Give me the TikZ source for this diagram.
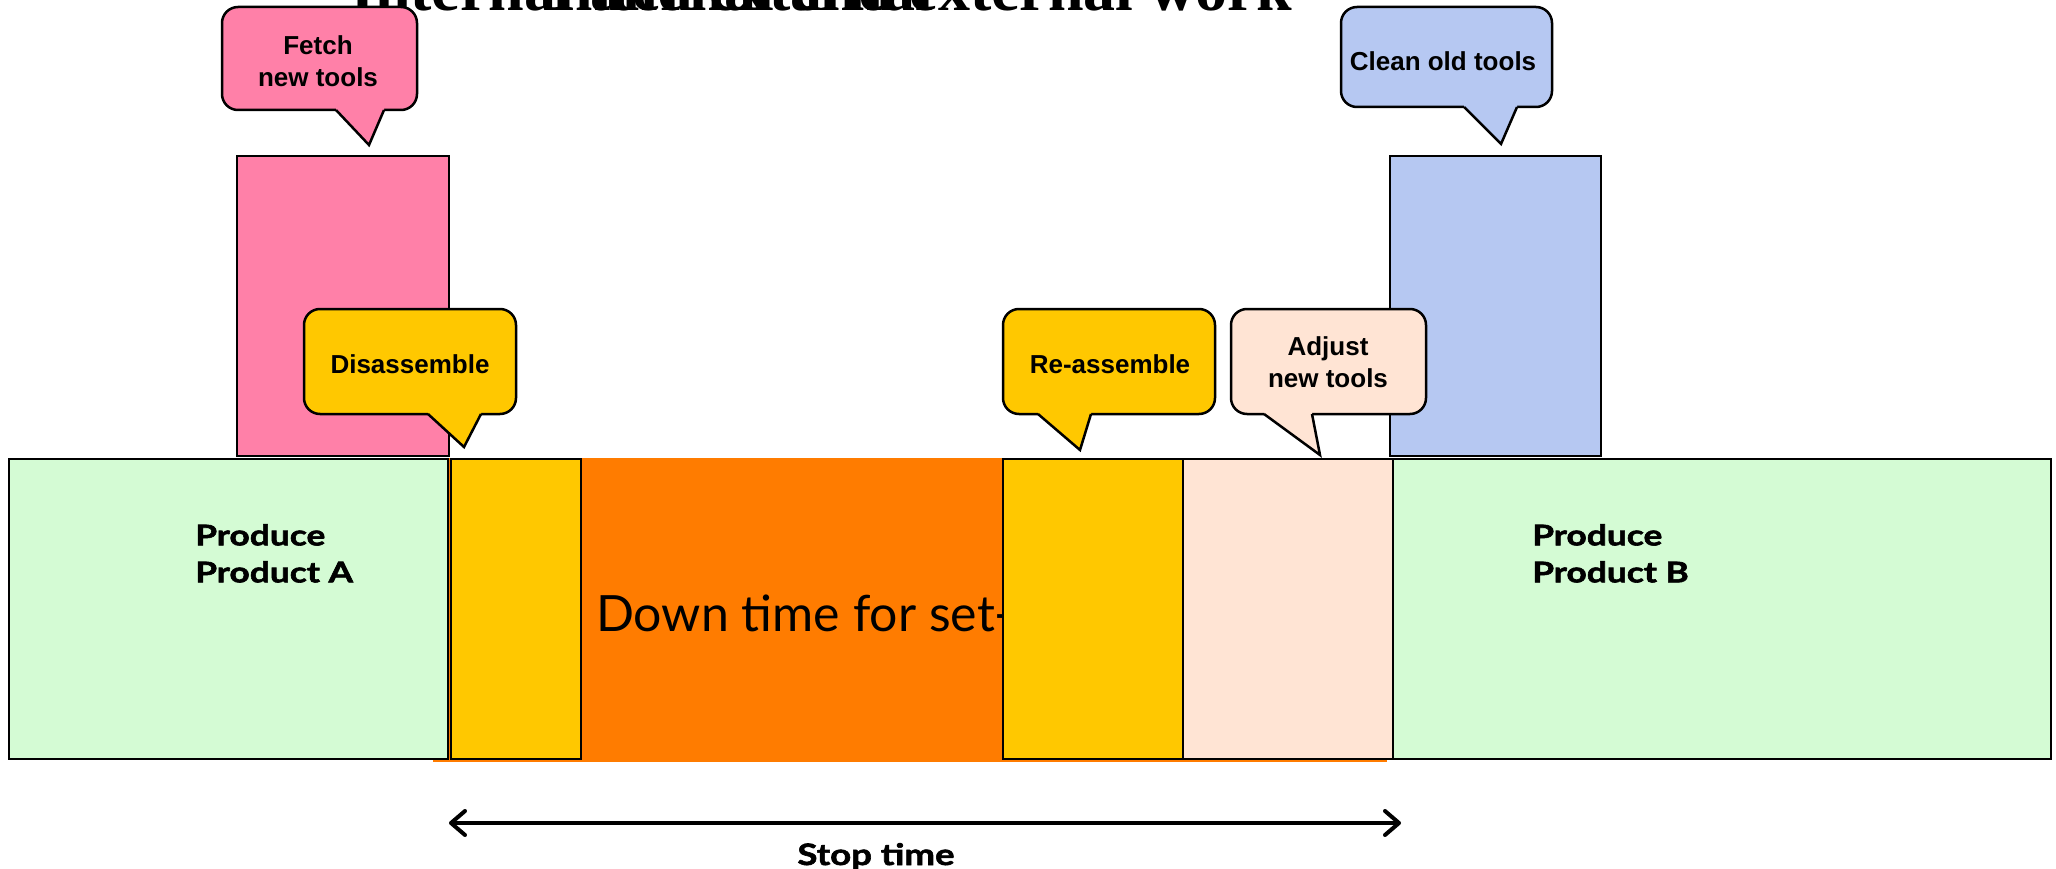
\documentclass[tikz,border=0pt]{standalone}
\usepackage{fontspec}
\setmainfont{Liberation Serif}
\newfontfamily\calloutfont{Liberation Sans}
\newfontfamily\gill{Lato}
\newfontfamily\gillwide{Lato}[FakeStretch=1.24, BoldFeatures={FakeBold=2}]
\usetikzlibrary{arrows.meta}

\definecolor{fetchpink}{RGB}{255,128,168}
\definecolor{cleanblue}{RGB}{182,200,242}
\definecolor{prodgreen}{RGB}{212,251,212}
\definecolor{adjpeach}{RGB}{255,228,212}
\definecolor{asmyellow}{RGB}{255,200,0}
\definecolor{downorange}{RGB}{255,124,0}

\tikzset{
  block/.style={draw=black, line width=2.5pt},
  bubbletxt/.style={font=\calloutfont\bfseries\fontsize{26}{32}\selectfont,
    align=center, inner sep=0pt},
  prodtxt/.style={font=\gillwide\bfseries\fontsize{28.5}{37}\selectfont,
    align=left, inner sep=0pt, anchor=north west},
  titletxt/.style={font=\bfseries\fontsize{64}{70}\selectfont, inner sep=0pt},
  stoparrow/.style={line width=4pt,
    {Straight Barb[length=14pt,width=24pt,round]}-{Straight Barb[length=14pt,width=24pt,round]}},
}

% speech bubble: #1 fill, #2..#5 body corners, #6/#7 tail base x, #8/#9 tail tip
\newcommand\callout[9]{%
  \draw[block, fill=#1, rounded corners=16pt] (#2,#3) rectangle (#4,#5);
  \fill[#1] (#6,#5-4) -- (#6,#5) -- (#8,#9) -- (#7,#5) -- (#7,#5-4) -- cycle;
  \draw[block, line join=miter] (#6,#5) -- (#8,#9) -- (#7,#5);
}

\begin{document}
\begin{tikzpicture}[x=1pt,y=-1pt]
\useasboundingbox (0,0) rectangle (2056,869);

% heading, mostly above the page
\node[titletxt, anchor=base west] (titleA) at (350,11) {Internal and external};
\node[titletxt, anchor=base east] (titleB) at (1292,11) {Internal and external work};

% set-up down time band
\fill[downorange] (433,458) rectangle (1387,762);
\node[font=\gill\fontsize{50}{52}\selectfont, anchor=base west, inner sep=0pt]
  (down) at (596,631) {Down time for set-up};

% time line blocks
\draw[block, fill=prodgreen] (9,459) rectangle (448,759);
\draw[block, fill=asmyellow] (451,459) rectangle (581,759);
\draw[block, fill=asmyellow] (1003,459) rectangle (1183,759);
\draw[block, fill=adjpeach] (1183,459) rectangle (1393,759);
\draw[block, fill=prodgreen] (1393,459) rectangle (2051,759);

% external work blocks
\draw[block, fill=fetchpink] (237,156) rectangle (449,456);
\draw[block, fill=cleanblue] (1390,156) rectangle (1601,456);

% callouts
\callout{fetchpink}{222}{7}{417}{110}{336}{384}{369}{145}
\callout{cleanblue}{1341}{7}{1552}{107}{1464}{1517}{1501}{144}
\callout{asmyellow}{304}{309}{516}{414}{428}{481}{464}{447}
\callout{asmyellow}{1003}{309}{1215}{414}{1038}{1091}{1080}{450}
\callout{adjpeach}{1231}{309}{1426}{414}{1264}{1312}{1320}{455}

\node[bubbletxt] (fetch) at (318,61) {Fetch\\new tools};
\node[bubbletxt] (clean) at (1443,61) {Clean old tools};
\node[bubbletxt] (disasm) at (410,364) {Disassemble};
\node[bubbletxt] (reasm) at (1110,364) {Re-assemble};
\node[bubbletxt] (adjust) at (1328,362) {Adjust\\new tools};

% production labels
\node[prodtxt] (prodA) at (195,524) {Produce\\Product A};
\node[prodtxt] (prodB) at (1532,524) {Produce\\Product B};

% stop time span
\coordinate (stopL) at (449,823);
\coordinate (stopR) at (1401,823);
\draw[stoparrow] (stopL) -- (stopR);
\node[font=\gillwide\bfseries\fontsize{29.5}{34}\selectfont, anchor=base, inner sep=0pt]
  (stop) at (876,865) {Stop time};
\end{tikzpicture}
\end{document}
